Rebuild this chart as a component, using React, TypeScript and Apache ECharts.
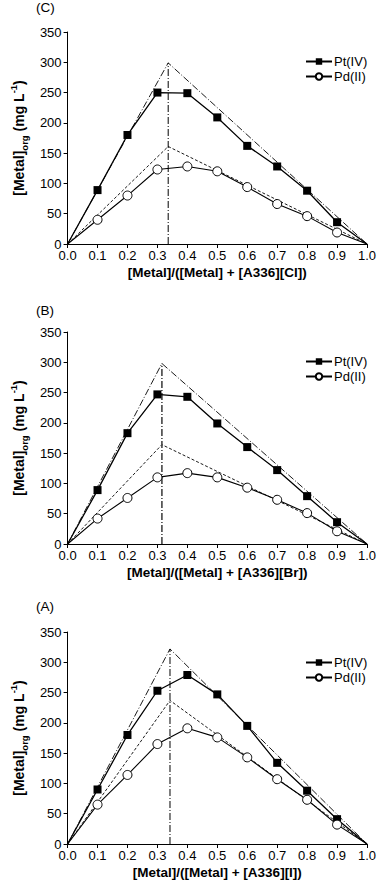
import React, { useEffect, useRef } from "react";
import * as echarts from "echarts";

// x positions (mole fraction)
const xs = [0, 0.1, 0.2, 0.3, 0.4, 0.5, 0.6, 0.7, 0.8, 0.9, 1.0];

// Panel order top -> bottom: C (Cl), B (Br), A (I)
const panelLabels = ["(C)", "(B)", "(A)"];
const xTitles = [
  "[Metal]/([Metal] + [A336][Cl])",
  "[Metal]/([Metal] + [A336][Br])",
  "[Metal]/([Metal] + [A336][I])",
];

// Pt(IV) measured values
const ptC = [0, 89, 180, 250, 249, 209, 162, 128, 88, 36, 0];
const ptB = [0, 89, 183, 247, 243, 199, 160, 122, 79, 36, 0];
const ptA = [0, 90, 180, 253, 279, 247, 195, 134, 88, 41, 0];
// Pd(II) measured values
const pdC = [0, 40, 80, 123, 128, 120, 94, 66, 46, 19, 0];
const pdB = [0, 42, 76, 110, 117, 110, 93, 73, 51, 21, 0];
const pdA = [0, 65, 114, 165, 191, 176, 143, 107, 73, 32, 0];

// theoretical triangle apexes
const apexX = [0.336, 0.315, 0.342];
const ptPeak = [299, 298, 322];
const pdPeak = [161, 164, 237];

const ptSets = [ptC, ptB, ptA];
const pdSets = [pdC, pdB, pdA];

const yTicks = { min: 0, max: 350, interval: 50 };

const FONT = "'Liberation Sans', Arial, sans-serif";

export default function App() {
  const ref = useRef<HTMLDivElement>(null);
  useEffect(() => {
    document.body.style.margin = "0";
    const chart = echarts.init(ref.current!, null, { renderer: "svg" });
    const tops = [32, 332, 632];
    const grids = tops.map((t) => ({ left: 53, top: t, width: 314, height: 212 }));
    const xAxes = tops.map((_, i) => ({
      type: "value",
      gridIndex: i,
      min: 0,
      max: 1,
      interval: 0.1,
      name: xTitles[i],
      nameLocation: "middle",
      nameGap: 21,
      nameTextStyle: { fontFamily: FONT, fontWeight: "bold", fontSize: 13.5, color: "#000" },
      axisLine: { show: true, lineStyle: { color: "#000", width: 1 } },
      axisTick: { show: true, inside: false, length: 4, lineStyle: { color: "#000" } },
      axisLabel: {
        fontFamily: FONT,
        fontSize: 13,
        color: "#000",
        margin: 5,
        formatter: (v: number) => v.toFixed(1),
      },
      splitLine: { show: false },
    }));
    const yAxes = tops.map((_, i) => ({
      type: "value",
      gridIndex: i,
      min: yTicks.min,
      max: yTicks.max,
      interval: yTicks.interval,
      name: "{b|[Metal]}{sub|org}{b| (mg L}{sup|-1}{b|)}",
      nameLocation: "middle",
      nameRotate: 90,
      nameGap: 33,
      nameTextStyle: {
        fontFamily: FONT,
        fontWeight: "bold",
        fontSize: 14,
        color: "#000",
        rich: {
          b: { fontFamily: FONT, fontWeight: "bold", fontSize: 14, color: "#000", lineHeight: 21, verticalAlign: "middle" },
          sub: { fontFamily: FONT, fontWeight: "bold", fontSize: 9.5, color: "#000", verticalAlign: "bottom" },
          sup: { fontFamily: FONT, fontWeight: "bold", fontSize: 9.5, color: "#000", verticalAlign: "top" },
        },
      },
      axisLine: { show: true, lineStyle: { color: "#000", width: 1 } },
      axisTick: { show: true, inside: false, length: 4, lineStyle: { color: "#000" } },
      axisLabel: { fontFamily: FONT, fontSize: 13, color: "#000", margin: 6 },
      splitLine: { show: false },
    }));

    const series: any[] = [];
    tops.forEach((_, i) => {
      const endItem = (x: number, y: number, idx: number, n: number) =>
        idx === 0 || idx === n - 1 ? { value: [x, y], symbol: "none" } : { value: [x, y] };
      series.push({
        type: "line",
        xAxisIndex: i,
        yAxisIndex: i,
        data: [[0, 0], [apexX[i], ptPeak[i]], [1, 0]],
        symbol: "none",
        silent: true,
        z: 1,
        lineStyle: { color: "#000", width: 0.9, type: [7, 2, 1, 2] },
      });
      series.push({
        type: "line",
        xAxisIndex: i,
        yAxisIndex: i,
        data: [[0, 0], [apexX[i], pdPeak[i]], [1, 0]],
        symbol: "none",
        silent: true,
        z: 1,
        lineStyle: { color: "#000", width: 0.9, type: [3, 2] },
      });
      series.push({
        type: "line",
        xAxisIndex: i,
        yAxisIndex: i,
        data: [[apexX[i], 0], [apexX[i], ptPeak[i]]],
        symbol: "none",
        silent: true,
        z: 1,
        lineStyle: { color: i === 1 ? "#444" : "#000", width: i === 1 ? 1.6 : 1, type: [7, 2, 1, 2] },
      });
      series.push({
        name: "Pt(IV)",
        type: "line",
        xAxisIndex: i,
        yAxisIndex: i,
        data: xs.map((x, k) => endItem(x, ptSets[i][k], k, xs.length)),
        symbol: "rect",
        symbolSize: 8,
        z: 3,
        lineStyle: { color: "#000", width: 1.3 },
        itemStyle: { color: "#000" },
      });
      series.push({
        name: "Pd(II)",
        type: "line",
        xAxisIndex: i,
        yAxisIndex: i,
        data: xs.map((x, k) => endItem(x, pdSets[i][k], k, xs.length)),
        symbol: "circle",
        symbolSize: 9,
        z: 3,
        lineStyle: { color: "#000", width: 1.1 },
        itemStyle: { color: "#fff", borderColor: "#000", borderWidth: 1 },
      });
    });

    const legendTops = [55, 355, 656];
    chart.setOption({
      animation: false,
      backgroundColor: "#fff",
      title: tops.map((_, i) => ({
        text: panelLabels[i],
        left: 36,
        top: [0, 303, 599][i],
        padding: 0,
        textStyle: { fontFamily: FONT, fontSize: 13.5, fontWeight: "normal", color: "#000" },
      })),
      grid: grids,
      xAxis: xAxes,
      yAxis: yAxes,
      legend: legendTops.map((t) => ({
        data: ["Pt(IV)", "Pd(II)"],
        orient: "vertical",
        left: 305,
        top: t,
        padding: 0,
        itemWidth: 26,
        itemHeight: 8,
        itemGap: 2,
        selectedMode: false,
        textStyle: { fontFamily: FONT, fontSize: 13, color: "#000", padding: [0, 0, 0, -3] },
      })),
      series,
    });
    return () => chart.dispose();
  }, []);
  return <div ref={ref} style={{ width: 380, height: 889 }} />;
}
